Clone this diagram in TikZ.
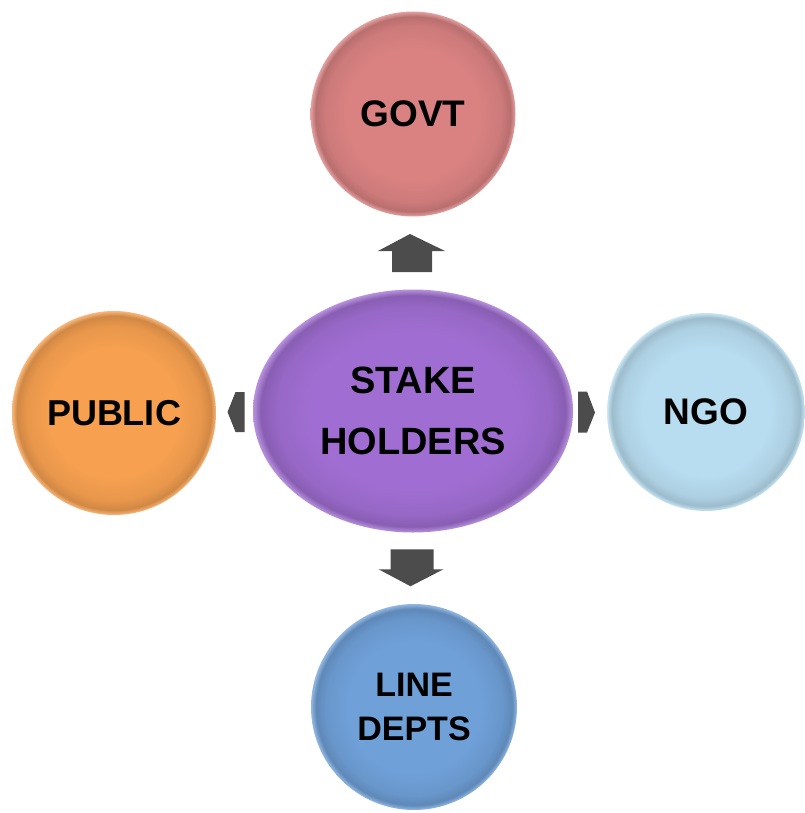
\documentclass[tikz,border=0pt]{standalone}
\usepackage{fontspec}
\setmainfont{Liberation Sans}
\usetikzlibrary{calc,shapes.geometric}

% glossy bubble: flat body, darker band near the rim, light edge
\colorlet{bub}{white}
\pgfdeclareradialshading[bub]{bubble}{\pgfpoint{0bp}{0bp}}{%
  color(0bp)=(bub); color(16bp)=(bub); color(21.5bp)=(bub!94!black);
  color(23.8bp)=(bub!85!black); color(25bp)=(bub!75!white); color(50bp)=(white)}

\tikzset{
  bubblebase/.style={shading=bubble, draw=none, inner sep=0pt,
    align=center, text=black},
  roundbub/.style={bubblebase, circle, minimum size=#1},
  ovalbub/.style={bubblebase, ellipse, minimum width=320pt, minimum height=243pt},
  label size/.style 2 args={font=\bfseries\fontsize{#1}{#2}\selectfont},
  blockarrow/.style={fill=black!70, draw=none}
}

\begin{document}
\begin{tikzpicture}[x=1pt,y=-1pt]
  \useasboundingbox (0,0) rectangle (804,813);

  \colorlet{bub}{rgb,255:red,218;green,130;blue,130}
  \node[roundbub=205pt, label size={37}{44}] (govt) at (413,114) {GOVT};

  \colorlet{bub}{rgb,255:red,246;green,160;blue,80}
  \node[roundbub=204pt, label size={36}{44}] (public) at (114,413) {PUBLIC};

  \colorlet{bub}{rgb,255:red,184;green,221;blue,240}
  \node[roundbub=198pt, label size={37}{44}] (ngo) at (706,412) {NGO};

  \colorlet{bub}{rgb,255:red,111;green,160;blue,216}
  \node[roundbub=206pt, label size={34}{44}] (line) at (414,707) {LINE\\DEPTS};

  \colorlet{bub}{rgb,255:red,160;green,110;blue,210}
  \node[ovalbub, label size={38}{61}] (hub) at (413,411) {STAKE\\HOLDERS};

  % block arrows halfway between the hub and each stakeholder
  \coordinate (toGovt)   at ($(hub.north)!0.5!(govt.south)$);
  \coordinate (toLine)   at ($(hub.south)!0.5!(line.north)$);
  \coordinate (toPublic) at ($(hub.west)!0.5!(public.east)$);
  \coordinate (toNgo)    at ($(hub.east)!0.5!(ngo.west)$);

  \fill[blockarrow, shift={(toGovt)}]
    (-3,-19) -- (32,-2) -- (19,-2) -- (19,19) -- (-21,19) -- (-21,-2) -- (-35,-2) -- cycle;
  \fill[blockarrow, shift={(toLine)}]
    (-23,-19) -- (20,-19) -- (20,1) -- (30,1) -- (-3,18) -- (-35,1) -- (-23,1) -- cycle;
  \fill[blockarrow, shift={(toPublic)}]
    (-7,0) -- (1,-20) -- (10,-20) -- (10,20) -- (1,20) -- cycle;
  \fill[blockarrow, shift={(toNgo)}]
    (-12,-20) -- (-3,-20) -- (5,1) -- (-3,21) -- (-12,21) -- cycle;
\end{tikzpicture}
\end{document}
